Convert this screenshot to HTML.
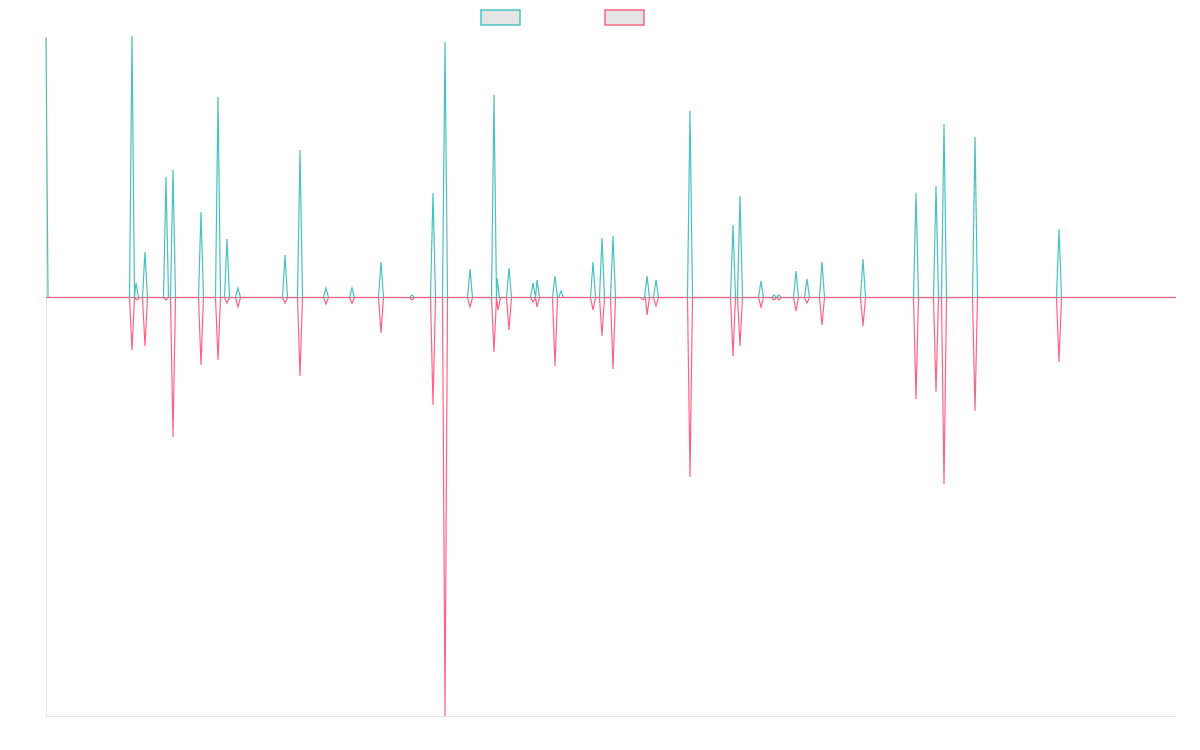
<!DOCTYPE html>
<html><head><meta charset="utf-8"><style>
html,body{margin:0;padding:0;background:#fff;width:1200px;height:750px;overflow:hidden}
</style></head><body>
<svg id="s" width="1200" height="750" xmlns="http://www.w3.org/2000/svg">
<rect x="481" y="10" width="39" height="15" fill="#e5e5e5" stroke="#4bc0c0" stroke-width="1.5"/>
<rect x="605" y="10" width="39" height="15" fill="#e5e5e5" stroke="#ff6384" stroke-width="1.5"/>
<line x1="46.5" y1="36" x2="46.5" y2="716" stroke="#e5e5e5"/>
<line x1="46" y1="716.5" x2="1176" y2="716.5" stroke="#e5e5e5"/>
<line x1="46" y1="297.5" x2="1176" y2="297.5" stroke="#999" stroke-width="1"/>
<path id="t" fill="none" stroke="#4bc0c0" stroke-width="1.2"/>
<path id="p" fill="none" stroke="#ff6384" stroke-width="1.2"/>
</svg>
<script>
var B=297.5;
var T=[[132,36],[136,283],[145,252],[166,177],[173,170],[201,212],[218,97],[227,239],[238,288],[285,255],[300,150],[326,288],[352,288],[381,262],[412,295],[433,193],[445,42],[470,269],[494,95],[497,278],[509,268],[533,283],[537,280],[555,276],[561,291],[593,262],[602,238],[613,236],[647,276],[656,280],[690,111],[733,225],[740,196],[761,281],[774,295],[779,295],[796,271],[807,279],[822,262],[863,259],[916,193],[936,186],[944,124],[975,137],[1059,229]];
var P=[[132,350],[137,300],[145,346],[166,300],[173,437],[201,365],[218,360],[227,303],[238,307],[285,303],[300,376],[326,304],[352,303],[381,333],[412,300],[433,405],[445,716],[470,307],[494,352],[498,310],[509,330],[533,302],[537,307],[555,366],[593,310],[602,336],[613,369],[643,300],[647,315],[656,306],[690,477],[733,356],[740,346],[761,307],[774,300],[779,300],[796,311],[807,303],[822,325],[863,326],[916,399],[936,392],[944,484],[975,411],[1059,362]];
function mk(a,start){var d="M46,"+start+" L48,"+B;var last=48;
a.forEach(function(s){var x0=s[0]-2.5;if(x0>last)d+=" L"+x0+","+B;d+=" L"+s[0]+","+s[1];last=s[0]+2.5;d+=" L"+last+","+B;});
d+=" L1176,"+B;return d;}
document.getElementById('t').setAttribute('d',mk(T,38));
document.getElementById('p').setAttribute('d',mk(P,B));
</script>
</body></html>
